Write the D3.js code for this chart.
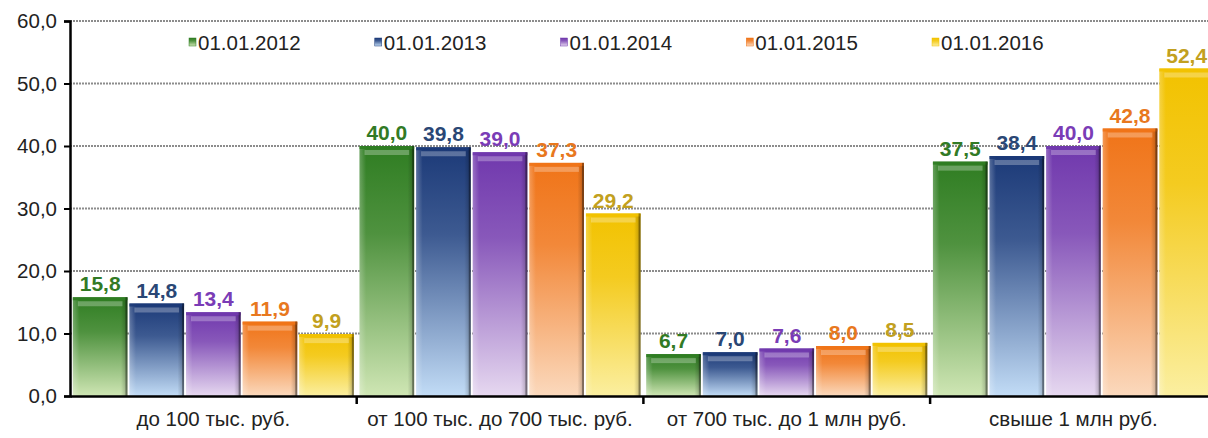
<!DOCTYPE html>
<html>
<head>
<meta charset="utf-8">
<script src="https://cdn.jsdelivr.net/npm/d3@7"></script>
<style>
  html, body { margin: 0; padding: 0; background: #fff; }
  svg { display: block; }
  text { font-family: "Liberation Sans", Arial, sans-serif; }
</style>
</head>
<body>
<svg id="chart" width="1208" height="438"></svg>
<script>
// Deposit groups (by size) and their shares, %, at each date
const categories = ["до 100 тыс. руб.", "от 100 тыс. до 700 тыс. руб.", "от 700 тыс. до 1 млн руб.", "свыше 1 млн руб."];
const seriesNames = ["01.01.2012", "01.01.2013", "01.01.2014", "01.01.2015", "01.01.2016"];
const v2012 = [15.8, 40.0, 6.7, 37.5];
const v2013 = [14.8, 39.8, 7.0, 38.4];
const v2014 = [13.4, 39.0, 7.6, 40.0];
const v2015 = [11.9, 37.3, 8.0, 42.8];
const v2016 = [9.9, 29.2, 8.5, 52.4];
const yTicks = [0, 10, 20, 30, 40, 50, 60];

const seriesValues = [v2012, v2013, v2014, v2015, v2016];
// per series: [top colour, bottom colour, label colour]
const palette = [
  ["#2f7d22", "#cfe6b4", "#327a25"],
  ["#1c3a78", "#c2dcf6", "#2a4775"],
  ["#7038ad", "#e6d8f0", "#7a3cb6"],
  ["#f07418", "#fbd9bd", "#e8781e"],
  ["#f2c200", "#fbefa0", "#c2a020"]
];

const svg = d3.select("#chart");
const margin = { left: 70, top: 21, bottom: 42 };
const plotH = 438 - margin.top - margin.bottom;
const bandW = 286.7;

const x0 = d3.scaleBand().domain(categories)
  .range([margin.left, margin.left + bandW * categories.length]).paddingInner(0).paddingOuter(0);
const x1 = d3.scaleBand().domain(seriesNames).range([0, x0.bandwidth()])
  .paddingInner(0.035).paddingOuter(0.05);
const y = d3.scaleLinear().domain([0, 60]).range([margin.top + plotH, margin.top]);

const fmt = v => d3.format(".1f")(v).replace(".", ",");

// gradients
const defs = svg.append("defs");
palette.forEach((p, i) => {
  const g = defs.append("linearGradient").attr("id", "grad" + i)
    .attr("x1", 0).attr("y1", 0).attr("x2", 0).attr("y2", 1);
  g.append("stop").attr("offset", "0%").attr("stop-color", p[0]);
  g.append("stop").attr("offset", "35%").attr("stop-color", d3.interpolateRgb(p[0], p[1])(0.2));
  g.append("stop").attr("offset", "100%").attr("stop-color", p[1]);
  const h = defs.append("linearGradient").attr("id", "side" + i)
    .attr("x1", 0).attr("y1", 0).attr("x2", 1).attr("y2", 0);
  h.append("stop").attr("offset", "0%").attr("stop-color", "#fff").attr("stop-opacity", 0.25);
  h.append("stop").attr("offset", "12%").attr("stop-color", "#fff").attr("stop-opacity", 0);
  h.append("stop").attr("offset", "88%").attr("stop-color", "#000").attr("stop-opacity", 0);
  h.append("stop").attr("offset", "100%").attr("stop-color", "#000").attr("stop-opacity", 0.25);
});

// grid lines
const grid = svg.append("g");
yTicks.filter(t => t > 0).forEach(t => {
  grid.append("line").attr("x1", margin.left).attr("x2", 1208)
    .attr("y1", y(t)).attr("y2", y(t))
    .attr("stroke", "#8c8c8c").attr("stroke-width", 2).attr("stroke-dasharray", "2,1");
});

// bars
const groups = svg.append("g").selectAll("g").data(categories).join("g")
  .attr("transform", c => `translate(${x0(c)},0)`);

seriesNames.forEach((s, si) => {
  const vals = seriesValues[si];
  const bw = x1.bandwidth();
  groups.each(function (c, ci) {
    const g = d3.select(this);
    const v = vals[ci];
    const bx = x1(s), by = y(v), bh = y(0) - y(v);
    g.append("rect").attr("x", bx).attr("y", by).attr("width", bw).attr("height", bh)
      .attr("fill", `url(#grad${si})`);
    g.append("rect").attr("x", bx).attr("y", by).attr("width", bw).attr("height", bh)
      .attr("fill", `url(#side${si})`);
    // top bevel
    g.append("rect").attr("x", bx).attr("y", by).attr("width", bw).attr("height", 3)
      .attr("fill", palette[si][0]).attr("opacity", 0.9);
    g.append("rect").attr("x", bx + 5).attr("y", by + 4).attr("width", bw - 10).attr("height", 5)
      .attr("fill", "#fff").attr("opacity", 0.28);
    // right shadow edge
    g.append("rect").attr("x", bx + bw - 2).attr("y", by).attr("width", 2).attr("height", bh)
      .attr("fill", "#000").attr("opacity", 0.35);
    // value label
    g.append("text").attr("x", bx + bw / 2).attr("y", by - 6)
      .attr("text-anchor", "middle")
      .style("font-weight", "bold").style("font-size", "21px")
      .attr("fill", palette[si][2]).text(fmt(v));
  });
});

// y axis
const yAxis = d3.axisLeft(y).tickValues(yTicks).tickFormat(fmt).tickSize(6).tickPadding(7);
const ya = svg.append("g").attr("transform", `translate(${margin.left},0)`).call(yAxis);
ya.select(".domain").attr("stroke", "#000").attr("stroke-width", 2.5);
ya.selectAll(".tick line").attr("stroke", "#000").attr("stroke-width", 2);
ya.selectAll(".tick text").style("font-size", "20.5px").attr("fill", "#222")
  .style("font-family", "'Liberation Sans', Arial, sans-serif");

// x axis
const xAxis = d3.axisBottom(x0).tickSize(0).tickPadding(15);
const xa = svg.append("g").attr("transform", `translate(0,${y(0)})`).call(xAxis);
xa.select(".domain").attr("stroke", "#000").attr("stroke-width", 2.5);
xa.selectAll(".tick text").style("font-size", "20.5px").attr("fill", "#222")
  .style("font-family", "'Liberation Sans', Arial, sans-serif");
// boundary ticks between categories
categories.forEach((c, i) => {
  if (i === 0) return;
  xa.append("line").attr("x1", x0(c)).attr("x2", x0(c)).attr("y1", 0).attr("y2", 8)
    .attr("stroke", "#000").attr("stroke-width", 2.5);
});

// legend
const legend = svg.append("g");
const legX = d3.scalePoint().domain(seriesNames).range([189, 932]);
seriesNames.forEach((s, si) => {
  const lx = legX(s);
  legend.append("rect").attr("x", lx).attr("y", 38).attr("width", 7).attr("height", 8)
    .attr("fill", `url(#grad${si})`).attr("stroke", palette[si][0]).attr("stroke-width", 0.5);
  legend.append("text").attr("x", lx + 9).attr("y", 50)
    .style("font-size", "20.5px").attr("fill", "#222").text(s);
});
</script>
</body>
</html>
